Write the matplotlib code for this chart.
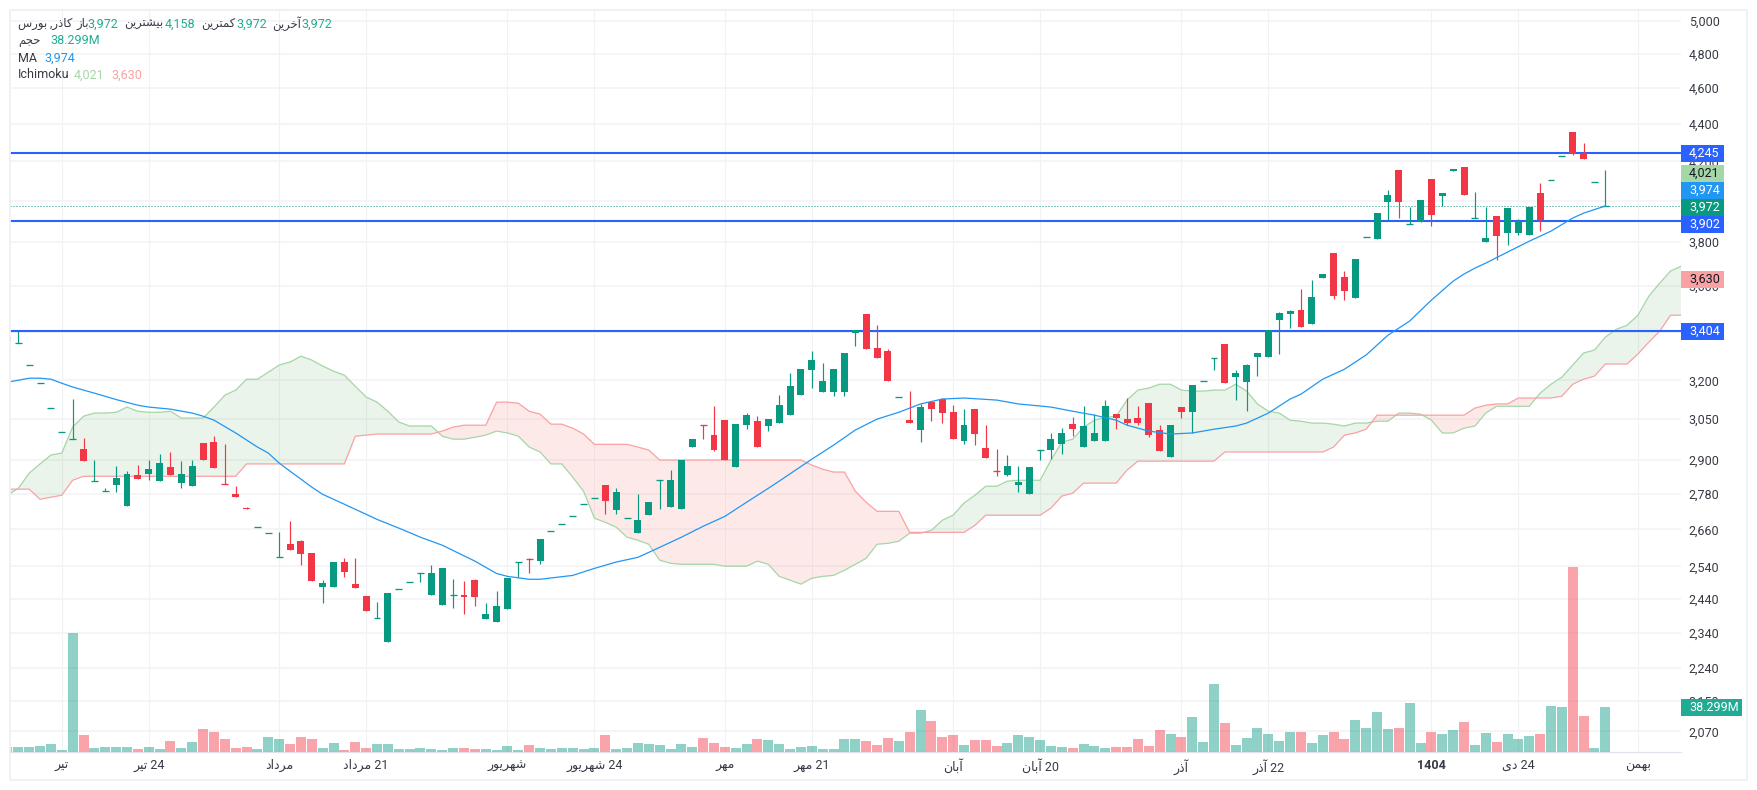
"""Daily candlestick chart with volume, MA and Ichimoku cloud, TradingView look."""

import matplotlib
matplotlib.use("Agg")
import matplotlib.pyplot as plt
from matplotlib.patches import Rectangle
from matplotlib.ticker import NullLocator
import numpy as np

WIDTH, HEIGHT = 1757, 790
GREEN, RED = "#089981", "#f23645"
LINE_BLUE, MA_BLUE = "#2962ff", "#2196f3"
SPAN_GREEN, SPAN_RED = "#a5d6a7", "#faa1a4"
TEXT = "#363a45"

# candle values, first candle sits just outside the left edge
opens = [3377, 3353, 3264, 3188, 3091, 3000, 2974, 2939, 2826, 2791, 2810, 2738, 2845, 2849, 2824, 2874, 2817, 2806,
         2960, 2964, 2817, 2778, 2731, 2669, 2649, 2569, 2611, 2621, 2582, 2475, 2475, 2554, 2485, 2448, 2383, 2312,
         2471, 2490, 2518, 2451, 2421, 2453, 2451, 2497, 2379, 2370, 2409, 2553, 2566, 2557, 2653, 2679, 2705, 2746,
         2767, 2810, 2724, 2696, 2647, 2707, 2829, 2734, 2727, 2946, 3027, 2990, 3046, 2874, 3027, 3042, 3024, 3035,
         3065, 3142, 3241, 3154, 3154, 3154, 3393, 3475, 3331, 3319, 3133, 3046, 3009, 3115, 3127, 3076, 2968, 3088,
         2942, 2860, 2845, 2810, 2778, 2934, 2935, 2956, 3031, 2946, 2968, 2968, 3069, 3050, 3054, 3111, 3009, 2910,
         3096, 3076, 3196, 3289, 3348, 3213, 3193, 3294, 3294, 3449, 3475, 3492, 3432, 3634, 3748, 3638, 3545, 3822,
         3814, 3993, 4155, 3884, 3895, 4109, 4023, 4150, 4171, 3913, 3800, 3925, 3843, 3843, 3833, 4038, 4103, 4226,
         4357, 4245, 4093, 3972]
highs = [3377, 3402, 3264, 3188, 3091, 3000, 3127, 2978, 2899, 2799, 2877, 2859, 2881, 2899, 2921, 2928, 2895, 2899,
         2960, 2986, 2956, 2806, 2734, 2669, 2649, 2651, 2687, 2624, 2582, 2497, 2554, 2566, 2566, 2448, 2430, 2457,
         2471, 2490, 2518, 2544, 2534, 2500, 2494, 2500, 2427, 2463, 2503, 2553, 2566, 2627, 2653, 2679, 2705, 2746,
         2767, 2810, 2799, 2696, 2778, 2751, 2829, 2863, 2899, 2975, 3027, 3099, 3046, 3031, 3073, 3061, 3050, 3142,
         3229, 3245, 3319, 3270, 3245, 3311, 3406, 3475, 3427, 3327, 3133, 3158, 3108, 3115, 3131, 3103, 3088, 3088,
         3027, 2939, 2917, 2877, 2874, 2934, 2998, 3016, 3057, 3099, 3069, 3123, 3069, 3131, 3099, 3111, 3027, 3027,
         3096, 3181, 3196, 3289, 3348, 3241, 3266, 3311, 3406, 3483, 3492, 3584, 3625, 3652, 3748, 3666, 3721, 3822,
         3939, 4053, 4155, 3969, 4003, 4109, 4038, 4160, 4171, 4043, 3969, 3925, 3964, 3910, 3969, 4089, 4103, 4226,
         4357, 4297, 4093, 4158]
lows = [3356, 3353, 3264, 3188, 3091, 3000, 2974, 2895, 2826, 2791, 2785, 2738, 2831, 2827, 2824, 2845, 2799, 2806,
        2899, 2870, 2815, 2768, 2727, 2669, 2649, 2569, 2592, 2544, 2494, 2427, 2475, 2506, 2472, 2403, 2383, 2312,
        2471, 2490, 2491, 2451, 2421, 2412, 2394, 2418, 2379, 2370, 2409, 2506, 2518, 2547, 2653, 2679, 2705, 2746,
        2767, 2710, 2710, 2696, 2647, 2707, 2727, 2734, 2727, 2946, 2975, 2931, 2899, 2874, 3012, 2946, 3005, 3035,
        3065, 3142, 3170, 3154, 3138, 3138, 3339, 3327, 3290, 3197, 3133, 3035, 2964, 3042, 3035, 2975, 2956, 2953,
        2906, 2841, 2841, 2785, 2778, 2899, 2902, 2921, 2986, 2946, 2968, 2968, 3012, 3027, 3027, 2982, 2931, 2910,
        3054, 2998, 3196, 3241, 3189, 3123, 3080, 3217, 3294, 3307, 3415, 3419, 3432, 3634, 3540, 3536, 3545, 3822,
        3814, 3905, 3915, 3884, 3895, 3876, 3974, 4150, 4028, 3913, 3800, 3716, 3785, 3833, 3833, 3852, 4103, 4226,
        4234, 4213, 4093, 3972]
closes = [3356, 3353, 3264, 3188, 3091, 3000, 2974, 2895, 2826, 2791, 2834, 2849, 2831, 2866, 2888, 2845, 2849, 2877,
          2899, 2870, 2815, 2768, 2727, 2669, 2649, 2569, 2592, 2579, 2494, 2488, 2554, 2522, 2472, 2403, 2383, 2457,
          2471, 2490, 2518, 2518, 2534, 2453, 2445, 2445, 2394, 2418, 2503, 2553, 2565, 2627, 2653, 2679, 2705, 2746,
          2767, 2755, 2785, 2696, 2690, 2751, 2829, 2827, 2899, 2975, 3026, 2935, 2899, 3031, 3065, 2946, 3050, 3103,
          3177, 3245, 3282, 3197, 3245, 3311, 3406, 3327, 3290, 3197, 3133, 3035, 3096, 3088, 3073, 2975, 3027, 2994,
          2906, 2858, 2877, 2820, 2874, 2934, 2975, 2998, 3012, 3024, 2998, 3099, 3054, 3035, 3035, 2990, 2931, 3027,
          3076, 3181, 3196, 3289, 3189, 3229, 3262, 3311, 3406, 3479, 3488, 3419, 3549, 3652, 3553, 3576, 3721, 3822,
          3939, 4028, 3993, 3884, 4003, 3930, 4038, 4160, 4028, 3913, 3819, 3828, 3964, 3900, 3969, 3905, 4103, 4226,
          4239, 4213, 4093, 3972]
# volume in millions
volumes = [4.5, 4.5, 4.5, 5.4, 7.1, 2.0, 101.6, 14.8, 3.7, 4.5, 4.5, 4.5, 2.8, 4.5, 2.8, 9.6, 3.7, 8.8, 19.9, 17.3,
           11.3, 3.7, 4.5, 2.8, 13.1, 11.3, 7.1, 13.1, 11.3, 3.7, 7.9, 2.0, 8.8, 3.7, 7.1, 7.1, 2.8, 2.8, 3.7, 2.8,
           2.0, 3.7, 3.7, 2.8, 2.8, 2.0, 5.4, 2.0, 6.2, 3.7, 2.8, 3.7, 3.7, 2.8, 3.7, 14.8, 2.8, 3.7, 7.9, 7.1, 6.2,
           2.8, 7.1, 4.5, 12.2, 7.9, 4.5, 3.7, 7.1, 11.3, 10.5, 7.1, 2.8, 4.5, 5.4, 2.8, 2.8, 11.3, 11.3, 9.6, 6.2,
           12.2, 9.6, 17.3, 36.0, 26.7, 13.1, 14.8, 6.2, 10.5, 10.5, 5.4, 7.9, 14.8, 13.1, 10.5, 5.4, 4.5, 3.7, 7.1,
           5.4, 3.4, 4.3, 4.3, 11.1, 5.1, 18.7, 15.3, 12.8, 29.8, 8.5, 57.9, 24.7, 6.0, 11.9, 20.4, 15.3, 9.4, 17.0,
           17.0, 7.7, 14.5, 17.0, 11.1, 27.2, 20.4, 34.0, 19.6, 20.4, 41.7, 7.7, 17.0, 15.3, 18.7, 25.5, 6.0, 16.2,
           8.5, 15.3, 11.1, 13.6, 15.3, 39.2, 38.3, 157.5, 30.6, 3.4, 38.299]

# Ichimoku spans run 7 bars past the last candle
span_a = [2775, 2799, 2852, 2885, 2917, 2924, 3020, 3061, 3073, 3073, 3076, 3096, 3080, 3076, 3076, 3080, 3054, 3054,
          3054, 3096, 3142, 3162, 3205, 3205, 3233, 3262, 3274, 3298, 3282, 3258, 3237, 3221, 3177, 3135, 3115, 3080,
          3039, 3024, 3024, 3024, 2986, 2975, 2975, 2982, 2990, 3005, 2998, 2986, 2946, 2928, 2885, 2885, 2838, 2789,
          2697, 2683, 2667, 2634, 2624, 2611, 2560, 2550, 2547, 2547, 2547, 2547, 2541, 2541, 2541, 2557, 2547, 2509,
          2497, 2485, 2503, 2509, 2512, 2528, 2547, 2566, 2611, 2614, 2621, 2647, 2647, 2657, 2690, 2707, 2748, 2775,
          2806, 2806, 2824, 2827, 2827, 2827, 2899, 2964, 2975, 3020, 3046, 3057, 3061, 3123, 3162, 3170, 3185, 3185,
          3162, 3158, 3158, 3162, 3162, 3185, 3158, 3108, 3080, 3073, 3046, 3042, 3035, 3035, 3031, 3024, 3035, 3035,
          3042, 3042, 3073, 3073, 3069, 3046, 2998, 2998, 3016, 3024, 3073, 3099, 3099, 3099, 3099, 3150, 3185, 3213,
          3262, 3311, 3323, 3377, 3410, 3427, 3470, 3553, 3611, 3666, 3688]
span_b = [2796, 2796, 2796, 2761, 2768, 2775, 2827, 2841, 2841, 2841, 2841, 2841, 2841, 2841, 2841, 2841, 2841, 2841,
          2841, 2841, 2841, 2841, 2885, 2885, 2885, 2885, 2885, 2885, 2885, 2885, 2885, 2885, 2986, 2990, 2994, 2994,
          2994, 2994, 2994, 2994, 3005, 3020, 3027, 3027, 3027, 3115, 3115, 3111, 3080, 3069, 3031, 3031, 3016, 2994,
          2956, 2956, 2956, 2956, 2946, 2935, 2899, 2899, 2899, 2899, 2899, 2899, 2899, 2899, 2899, 2899, 2899, 2899,
          2899, 2899, 2881, 2866, 2856, 2856, 2789, 2751, 2720, 2720, 2720, 2650, 2650, 2650, 2650, 2650, 2650, 2673,
          2707, 2707, 2707, 2707, 2707, 2707, 2731, 2772, 2782, 2817, 2817, 2817, 2817, 2863, 2895, 2895, 2895, 2895,
          2895, 2895, 2895, 2895, 2928, 2928, 2928, 2928, 2928, 2928, 2928, 2928, 2928, 2928, 2946, 2990, 2998, 3012,
          3065, 3065, 3065, 3065, 3065, 3065, 3065, 3065, 3065, 3092, 3103, 3108, 3108, 3131, 3131, 3131, 3131, 3138,
          3185, 3205, 3217, 3266, 3266, 3266, 3307, 3356, 3402, 3470, 3470]

ma_bars = [-1, 0, 1, 2, 3, 4, 5, 7, 9, 11, 12, 14, 16, 17, 18, 20, 22, 23, 24, 25, 26, 27, 28, 29, 30, 32, 33, 35, 37,
           39, 42, 44, 45, 47, 48, 51, 53, 55, 57, 59, 61, 63, 65, 67, 69, 70, 73, 75, 77, 79, 81, 83, 85, 87, 90, 92,
           95, 97, 99, 101, 102, 104, 106, 108, 110, 112, 113, 114, 115, 117, 118, 120, 122, 124, 126, 128, 130, 132,
           133, 134, 135, 137, 139, 141, 143, 144, 146]
ma_values = [3193, 3201, 3209, 3209, 3205, 3189, 3174, 3150, 3125, 3103, 3096, 3088, 3073, 3061, 3046, 2998, 2946, 2924,
             2888, 2859, 2831, 2803, 2778, 2761, 2744, 2710, 2693, 2664, 2634, 2608, 2557, 2518, 2509, 2500, 2500, 2512,
             2534, 2554, 2569, 2601, 2634, 2670, 2703, 2751, 2799, 2824, 2902, 2953, 3009, 3050, 3076, 3108, 3127, 3131,
             3123, 3108, 3096, 3080, 3065, 3046, 3027, 3005, 2994, 2998, 3012, 3024, 3035, 3054, 3073, 3127, 3146, 3205,
             3245, 3303, 3385, 3445, 3536, 3620, 3652, 3679, 3702, 3753, 3804, 3852, 3915, 3939, 3974]

level_prices = [4245, 3902, 3404]
last_price = 3972

price_ticks = [5000, 4800, 4600, 4400, 4200, 4000, 3800, 3600, 3400, 3200, 3050, 2900, 2780, 2660, 2540, 2440, 2340,
               2240, 2150, 2070]
# these two stay fully behind the price boxes
hidden_ticks = [4000, 3400]
time_bars = [4, 12, 24, 32, 45, 53, 65, 73, 86, 94, 107, 115, 130, 138, 149]
time_labels = ["تیر", "24 تیر", "مرداد", "21 مرداد", "شهریور", "24 شهریور", "مهر", "21 مهر", "آبان", "20 آبان", "آذر",
               "22 آذر", "1404", "24 دی", "بهمن"]

# isolated, final, initial, medial; two forms only means no join to the next letter
FORMS = {
    "ا": "\ufe8d\ufe8e", "آ": "\ufe81\ufe82", "د": "\ufea9\ufeaa", "ذ": "\ufeab\ufeac", "ر": "\ufead\ufeae",
    "ز": "\ufeaf\ufeb0", "و": "\ufeed\ufeee",
    "ب": "\ufe8f\ufe90\ufe91\ufe92", "ت": "\ufe95\ufe96\ufe97\ufe98", "ج": "\ufe9d\ufe9e\ufe9f\ufea0",
    "ح": "\ufea1\ufea2\ufea3\ufea4", "خ": "\ufea5\ufea6\ufea7\ufea8", "س": "\ufeb1\ufeb2\ufeb3\ufeb4",
    "ش": "\ufeb5\ufeb6\ufeb7\ufeb8", "م": "\ufee1\ufee2\ufee3\ufee4", "ن": "\ufee5\ufee6\ufee7\ufee8",
    "ه": "\ufee9\ufeea\ufeeb\ufeec", "ک": "\ufb8e\ufb8f\ufb90\ufb91", "ی": "\ufbfc\ufbfd\ufbfe\ufbff",
}


def shape_word(word):
    """Join the letters of one word and put them in drawing order."""
    out = []
    for pos, ch in enumerate(word):
        if ch not in FORMS:
            out.append(ch)
            continue
        prev_ch = word[pos - 1] if pos else ""
        next_ch = word[pos + 1] if pos + 1 < len(word) else ""
        joins_prev = prev_ch in FORMS and len(FORMS[prev_ch]) == 4
        joins_next = next_ch in FORMS and len(FORMS[ch]) == 4
        if joins_prev and joins_next:
            out.append(FORMS[ch][3])
        elif joins_prev:
            out.append(FORMS[ch][1])
        elif joins_next:
            out.append(FORMS[ch][2])
        else:
            out.append(FORMS[ch][0])
    return "".join(reversed(out))


def fa(text):
    """matplotlib has no text shaping, so prepare right-to-left text by hand."""
    words = [shape_word(w) if any(c in FORMS for c in w) else w for w in text.split(" ")]
    return " ".join(reversed(words))


plt.rcParams["font.family"] = ["Roboto", "DejaVu Sans"]

fig = plt.figure(figsize=(WIDTH / 100, HEIGHT / 100), dpi=100)
PLOT_LEFT, PLOT_RIGHT, PLOT_TOP, PLOT_BOTTOM = 10, 1681, 10, 752
plot_rect = [PLOT_LEFT / WIDTH, 1 - PLOT_BOTTOM / HEIGHT,
             (PLOT_RIGHT - PLOT_LEFT) / WIDTH, (PLOT_BOTTOM - PLOT_TOP) / HEIGHT]
# grid and scales at the back, then volume, then the price marks
ax = fig.add_axes(plot_rect, zorder=0)
ax_vol = fig.add_axes(plot_rect, zorder=1)
ax_price = fig.add_axes(plot_rect, zorder=2)

bars = np.arange(-1, len(opens) - 1)
cloud_bars = np.arange(-1, len(span_a) - 1)
o, h, l, c = map(np.array, (opens, highs, lows, closes))
up = c >= o
colors = np.where(up, GREEN, RED)

ax_vol.bar(bars, volumes, width=0.92, color=colors, alpha=0.45, linewidth=0)
ax_vol.set_xlim(-0.764, 152.96)
ax_vol.set_ylim(0, 631.4)
ax_vol.axis("off")

for a_ in (ax, ax_price):
    a_.set_yscale("log")
    a_.set_xlim(-0.764, 152.96)
    a_.set_ylim(2017.4, 5069)
ax_price.axis("off")

a, b = np.array(span_a), np.array(span_b)
ax_price.fill_between(cloud_bars, a, b, where=a >= b, interpolate=True, color="#43a047", alpha=0.11, linewidth=0,
                      zorder=1)
ax_price.fill_between(cloud_bars, a, b, where=a <= b, interpolate=True, color="#f44336", alpha=0.11, linewidth=0,
                      zorder=1)
ax_price.plot(cloud_bars, a, color=SPAN_GREEN, lw=0.9, zorder=1.5)
ax_price.plot(cloud_bars, b, color=SPAN_RED, lw=0.9, zorder=1.5)

for price in level_prices:
    ax_price.axhline(price, color=LINE_BLUE, lw=1.5, zorder=2)
ax_price.axhline(last_price, color=GREEN, lw=0.72, ls=(0, (1, 2)), zorder=2)

ax_price.vlines(bars, l, h, colors=colors, lw=0.85, zorder=3)
thin = np.abs(c - o) <= 3
ax_price.bar(bars[~thin], (c - o)[~thin], bottom=o[~thin], width=0.64, color=colors[~thin], linewidth=0, zorder=3)
ax_price.hlines(c[thin], bars[thin] - 0.32, bars[thin] + 0.32, colors=colors[thin], lw=0.95, zorder=3)
ax_price.plot(ma_bars, ma_values, color=MA_BLUE, lw=0.9, zorder=4)

ax.yaxis.tick_right()
ax.set_yticks(price_ticks, ["" if p in hidden_ticks else f"{p:,}" for p in price_ticks])
ax.yaxis.set_minor_locator(NullLocator())
ax.set_xticks(time_bars, [fa(t) for t in time_labels])
ax.tick_params(axis="y", length=0, pad=5.5, labelsize=9, labelcolor=TEXT)
ax.tick_params(axis="x", length=0, pad=5, labelsize=9, labelcolor=TEXT)
ax.get_xticklabels()[time_labels.index("1404")].set_fontweight("bold")
ax.grid(True, axis="y", color="#f2f3f5", lw=1.1)
ax.grid(True, axis="x", color="#f1f2f4", lw=0.8)
for side in ("top", "left", "right"):
    ax.spines[side].set_visible(False)
ax.spines["bottom"].set_color("#e0e3eb")
ax.spines["bottom"].set_linewidth(0.9)


def px_text(x, y, text, color=TEXT, ha="left", size=9, zorder=6, **kw):
    fig.text(x / WIDTH, 1 - y / HEIGHT, text, color=color, ha=ha, va="center", fontsize=size, zorder=zorder, **kw)


def price_box(y, text, bg, fg="white", right=1724):
    fig.add_artist(Rectangle((1681 / WIDTH, 1 - (y + 8.5) / HEIGHT), (right - 1681) / WIDTH, 17 / HEIGHT,
                             transform=fig.transFigure, facecolor=bg, edgecolor="none", zorder=5))
    px_text(1689, y, text, color=fg, size=9)


# scale labels are pushed apart by the chart so they keep their own slots
price_box(153.5, "4,245", LINE_BLUE)
price_box(173.5, "4,021", SPAN_GREEN, fg="#131722")
price_box(190.5, "3,974", MA_BLUE)
price_box(207.5, "3,972", GREEN)
price_box(224.5, "3,902", LINE_BLUE)
price_box(279.5, "3,630", SPAN_RED, fg="#131722")
price_box(331.5, "3,404", LINE_BLUE)
price_box(707.5, "38.299M", "#22ab94", right=1742)

LEGEND_GREEN = "#22ab94"
px_text(18, 24, fa("کاذر, بورس"), size=8.4)
px_text(77, 24, fa("باز"), size=8.4)
px_text(87, 24, "3,972", color=LEGEND_GREEN)
px_text(124, 24, fa("بیشترین"), size=8.4)
px_text(165, 24, "4,158", color=LEGEND_GREEN)
px_text(201, 24, fa("کمترین"), size=8.4)
px_text(236, 24, "3,972", color=LEGEND_GREEN)
px_text(272, 24, fa("آخرین"), size=8.4)
px_text(301, 24, "3,972", color=LEGEND_GREEN)
px_text(18, 41, fa("حجم"), size=8.4)
px_text(50, 41, "38.299M", color=LEGEND_GREEN)
px_text(18, 58, "MA")
px_text(44, 58, "3,974", color=MA_BLUE)
px_text(18, 75, "Ichimoku")
px_text(74, 75, "4,021", color=SPAN_GREEN)
px_text(111, 75, "3,630", color=SPAN_RED)

# outer frame of the widget
fig.add_artist(Rectangle((9.7 / WIDTH, 1 - 779.5 / HEIGHT), 1737 / WIDTH, 770 / HEIGHT, transform=fig.transFigure,
                         facecolor="none", edgecolor="#eff0f5", lw=1.3, zorder=7))

fig.savefig("out.png", dpi=100)
